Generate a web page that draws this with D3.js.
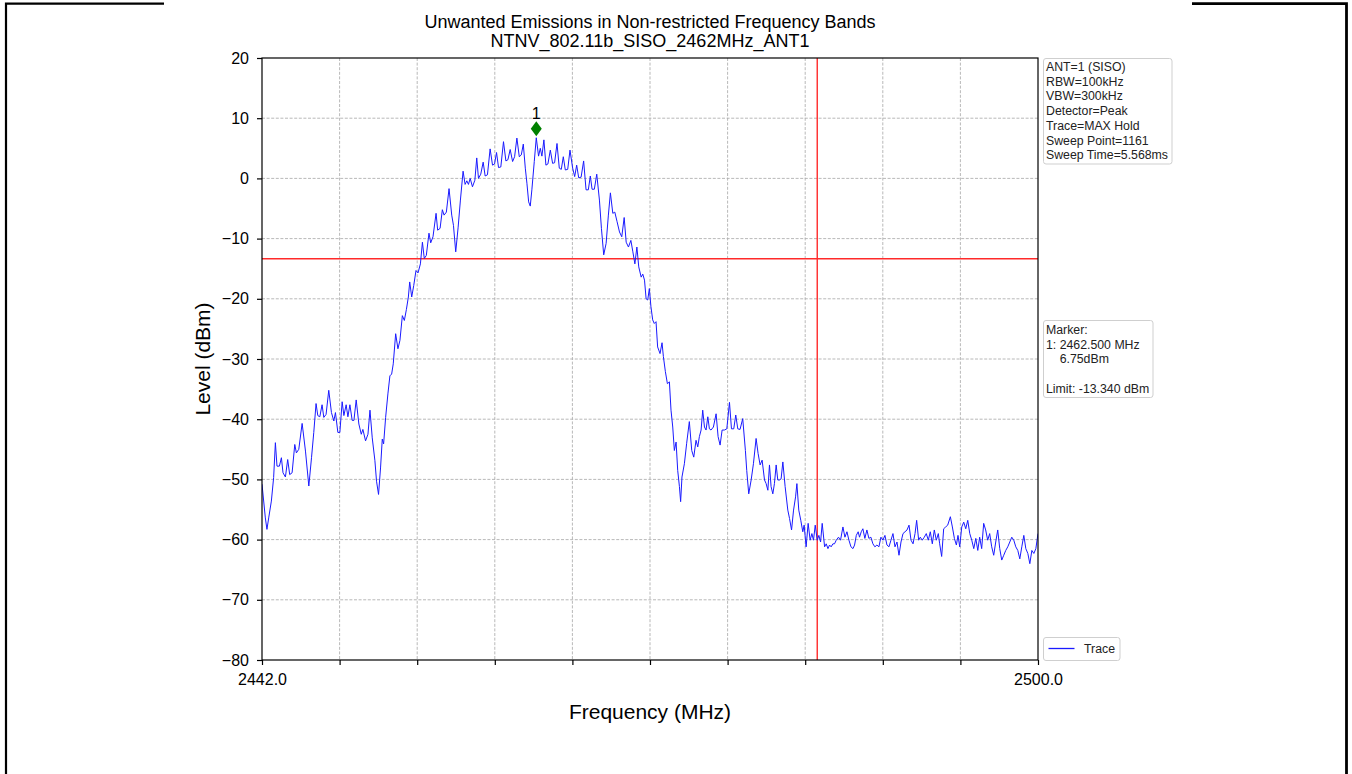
<!DOCTYPE html>
<html>
<head>
<meta charset="utf-8">
<script src="https://cdn.jsdelivr.net/npm/d3@7"></script>
<style>
  body { margin: 0; background: #fff; }
  svg { display: block; font-family: "Liberation Sans", Arial, sans-serif; }
</style>
</head>
<body>
<svg id="chart" width="1352" height="774"></svg>
<script>
// trace (MHz, dBm)
var freqMHz = [
  2442.00, 2442.25, 2442.37, 2442.50, 2442.70, 2442.87, 2443.00, 2443.12, 2443.30, 2443.45,
  2443.57, 2443.75, 2443.92, 2444.07, 2444.25, 2444.45, 2444.57, 2444.75, 2445.00, 2445.25,
  2445.50, 2445.70, 2445.87, 2446.04, 2446.17, 2446.32, 2446.49, 2446.62, 2446.79, 2446.99,
  2447.19, 2447.37, 2447.49, 2447.67, 2447.82, 2447.99, 2448.12, 2448.29, 2448.42, 2448.57,
  2448.74, 2448.87, 2449.04, 2449.24, 2449.42, 2449.54, 2449.74, 2449.92, 2450.07, 2450.24,
  2450.44, 2450.56, 2450.71, 2450.86, 2450.99, 2451.09, 2451.24, 2451.41, 2451.56, 2451.69,
  2451.81, 2451.99, 2452.16, 2452.31, 2452.49, 2452.64, 2452.79, 2452.94, 2453.04, 2453.19,
  2453.34, 2453.51, 2453.66, 2453.84, 2453.99, 2454.13, 2454.28, 2454.48, 2454.61, 2454.78,
  2455.01, 2455.13, 2455.31, 2455.48, 2455.61, 2455.78, 2455.98, 2456.18, 2456.31, 2456.48,
  2456.66, 2456.83, 2457.03, 2457.18, 2457.31, 2457.43, 2457.56, 2457.73, 2457.91, 2458.05,
  2458.18, 2458.35, 2458.53, 2458.68, 2458.85, 2459.05, 2459.23, 2459.38, 2459.53, 2459.68,
  2459.85, 2460.05, 2460.23, 2460.38, 2460.55, 2460.73, 2460.88, 2461.05, 2461.23, 2461.38,
  2461.53, 2461.68, 2461.80, 2461.93, 2462.05, 2462.17, 2462.35, 2462.50, 2462.67, 2462.80,
  2462.92, 2463.07, 2463.22, 2463.37, 2463.55, 2463.72, 2463.87, 2464.05, 2464.22, 2464.37,
  2464.52, 2464.67, 2464.85, 2465.02, 2465.22, 2465.37, 2465.52, 2465.67, 2465.85, 2466.04,
  2466.22, 2466.39, 2466.54, 2466.67, 2466.84, 2467.02, 2467.22, 2467.37, 2467.54, 2467.72,
  2467.89, 2468.04, 2468.22, 2468.37, 2468.54, 2468.72, 2468.89, 2469.07, 2469.22, 2469.39,
  2469.57, 2469.72, 2469.87, 2470.02, 2470.16, 2470.34, 2470.46, 2470.59, 2470.71,
  2470.83, 2470.95, 2471.07, 2471.20, 2471.32, 2471.45, 2471.57, 2471.75, 2471.90, 2472.00,
  2472.15, 2472.30, 2472.45, 2472.57, 2472.70, 2472.82, 2472.95, 2473.07, 2473.20, 2473.29,
  2473.39, 2473.57, 2473.74, 2473.94, 2474.12, 2474.27, 2474.44, 2474.57, 2474.69, 2474.82,
  2474.94, 2475.07, 2475.19, 2475.32, 2475.44, 2475.56, 2475.74, 2475.94, 2476.09, 2476.24,
  2476.39, 2476.56, 2476.74, 2476.94, 2477.09, 2477.26, 2477.41, 2477.56, 2477.73, 2477.93,
  2478.13, 2478.23, 2478.38, 2478.56, 2478.73, 2478.93, 2479.08, 2479.23, 2479.38, 2479.56,
  2479.68, 2479.81, 2479.93, 2480.05, 2480.18, 2480.30, 2480.43, 2480.55, 2480.68, 2480.80,
  2480.93, 2481.10, 2481.30, 2481.43, 2481.58, 2481.73, 2481.88, 2481.98, 2482.12, 2482.27,
  2482.42, 2482.52, 2482.67, 2482.82, 2482.97, 2483.10, 2483.22, 2483.35, 2483.50, 2483.62,
  2483.75, 2483.87, 2484.05, 2484.17, 2484.30, 2484.42, 2484.54, 2484.67, 2484.79, 2484.92,
  2485.09, 2485.24, 2485.42, 2485.57, 2485.72, 2485.87, 2486.02, 2486.17, 2486.29, 2486.42,
  2486.56, 2486.66, 2486.79, 2486.91, 2487.06, 2487.21, 2487.36, 2487.51, 2487.66, 2487.81,
  2487.96, 2488.11, 2488.26, 2488.41, 2488.56, 2488.71, 2488.86, 2489.01, 2489.16, 2489.31,
  2489.46, 2489.61, 2489.76, 2489.91, 2490.06, 2490.21, 2490.36, 2490.51, 2490.66, 2490.81,
  2490.93, 2491.08, 2491.20, 2491.35, 2491.50, 2491.65, 2491.80, 2491.95, 2492.10, 2492.25,
  2492.40, 2492.55, 2492.65, 2492.80, 2492.95, 2493.10, 2493.25, 2493.45, 2493.60, 2493.75,
  2493.90, 2494.02, 2494.15, 2494.30, 2494.45, 2494.60, 2494.75, 2494.90, 2495.05, 2495.20,
  2495.35, 2495.50, 2495.64, 2495.79, 2495.94, 2496.09, 2496.24, 2496.39, 2496.54, 2496.69,
  2496.84, 2496.99, 2497.14, 2497.29, 2497.44, 2497.59, 2497.74, 2497.89, 2498.04, 2498.19,
  2498.34, 2498.49, 2498.64, 2498.79, 2498.94, 2499.09, 2499.24, 2499.39, 2499.54, 2499.69,
  2499.84, 2500.00
];
var levelDbm = [
  -50.8, -56.4, -58.3, -56.4, -53.6, -49.7, -43.9, -47.8, -47.8, -46.4,
  -48.9, -49.6, -46.7, -49.2, -48.9, -44.2, -45.6, -45.0, -40.7, -45.3,
  -51.1, -46.4, -42.2, -37.4, -39.4, -39.6, -37.6, -39.7, -39.2, -35.2,
  -38.9, -40.3, -38.9, -42.2, -42.2, -37.1, -39.4, -37.6, -39.6, -37.6,
  -40.2, -40.2, -36.8, -40.8, -42.5, -41.7, -43.6, -42.5, -38.5, -43.1,
  -46.9, -50.3, -52.5, -48.1, -43.3, -44.1, -39.7, -35.8, -32.8, -32.5,
  -30.8, -25.8, -28.3, -26.9, -22.8, -23.6, -21.8, -19.7, -17.2, -19.7,
  -17.8, -15.3, -15.7, -14.2, -10.6, -13.3, -12.8, -9.1, -10.7, -9.7,
  -5.8, -8.6, -8.3, -5.2, -6.1, -5.6, -1.7, -6.1, -7.8, -12.2,
  -8.1, -3.6, 1.2, -1.0, -0.4, -1.0, 0.0, -1.4, -0.3, 3.4,
  0.0, 0.7, 2.7, 0.4, 0.6, 4.9, 2.2, 2.4, 4.3, 1.8,
  1.9, 6.1, 2.9, 3.1, 4.8, 2.8, 3.6, 6.7, 3.6, 3.9,
  5.7, 1.7, -0.8, -3.9, -4.6, -1.9, 2.8, 6.75, 3.7, 5.0,
  3.7, 6.4, 2.2, 2.4, 4.7, 2.5, 2.6, 5.8, 1.7, 1.5,
  3.6, 1.4, 1.5, 4.7, 1.7, 0.3, 2.2, 0.1, 0.2, 2.9,
  -1.9, -1.9, 0.4, -1.8, -1.8, 0.7, -3.6, -8.3, -12.7, -10.8,
  -6.1, -2.4, -5.8, -5.6, -7.2, -8.9, -9.7, -6.5, -10.6, -11.4,
  -10.3, -12.2, -14.2, -11.4, -14.7, -16.4, -15.9, -16.9, -20.0,
  -20.2, -18.3, -21.3, -23.5, -24.1, -23.8, -28.0, -29.1, -27.3, -29.6,
  -32.1, -34.1, -33.8, -38.5, -41.3, -45.2, -43.8, -48.5, -51.2, -53.7,
  -49.6, -47.4, -44.0, -40.4, -45.2, -46.3, -43.5, -44.6, -42.9, -41.8,
  -38.5, -41.3, -41.8, -39.6, -41.6, -41.8, -41.3, -39.1, -42.9, -44.3,
  -41.8, -41.8, -41.6, -37.2, -41.6, -41.6, -39.3, -41.6, -41.7, -39.9,
  -45.2, -48.5, -52.4, -50.1, -47.4, -43.2, -45.7, -47.6, -46.8, -50.1,
  -50.7, -51.8, -47.6, -51.2, -52.4, -50.7, -47.6, -50.1, -50.1, -49.9,
  -47.1, -51.2, -55.1, -56.5, -58.4, -55.1, -52.9, -50.7, -55.1, -56.8,
  -58.7, -57.6, -61.2, -57.3, -60.1, -59.0, -60.1, -57.6, -60.1, -59.3,
  -60.4, -57.3, -61.2, -60.7, -61.5, -60.9, -61.2, -60.7, -60.7, -60.1,
  -59.6, -60.1, -57.9, -59.6, -58.7, -60.1, -61.2, -61.5, -60.9, -59.3,
  -58.7, -59.6, -58.7, -58.2, -59.8, -58.4, -59.8, -59.6, -60.7, -61.2,
  -60.9, -61.2, -59.6, -60.1, -59.3, -60.9, -61.2, -60.1, -59.0, -61.2,
  -60.4, -62.6, -60.4, -59.0, -58.7, -58.4, -57.6, -60.1, -60.7, -59.0,
  -56.8, -60.1, -59.6, -60.1, -59.6, -59.0, -60.1, -58.7, -60.7, -58.4,
  -60.1, -59.0, -60.7, -62.8, -58.2, -57.9, -57.6, -56.2, -57.9, -59.8,
  -60.9, -59.3, -61.2, -57.9, -57.1, -58.2, -56.8, -59.0, -60.1, -61.5,
  -59.8, -61.8, -59.6, -61.5, -57.3, -58.4, -60.1, -59.0, -61.2, -62.6,
  -60.4, -58.4, -61.5, -63.4, -62.6, -61.8, -61.2, -60.4, -59.6, -60.1,
  -61.2, -61.8, -63.2, -61.2, -59.3, -61.5, -62.3, -64.0, -61.8, -62.3,
  -61.5, -59.0
];

var xTicks = [2442, 2447.8, 2453.6, 2459.4, 2465.2, 2471, 2476.8, 2482.6, 2488.4, 2494.2, 2500];
var xTickLabels = ["2442.0", "", "", "", "", "", "", "", "", "", "2500.0"];
var yTicks = [-80, -70, -60, -50, -40, -30, -20, -10, 0, 10, 20];

var limitLevel = -13.34;      // dBm
var bandEdgeMHz = 2483.5;     // restricted band edge
var markerFreq = 2462.5;
var markerLevel = 6.75;

var titleLines = ["Unwanted Emissions in Non-restricted Frequency Bands", "NTNV_802.11b_SISO_2462MHz_ANT1"];
var infoLines = ["ANT=1 (SISO)", "RBW=100kHz", "VBW=300kHz", "Detector=Peak", "Trace=MAX Hold", "Sweep Point=1161", "Sweep Time=5.568ms"];
var markerLines = ["Marker:", "1: 2462.500 MHz", "    6.75dBm", "", "Limit: -13.340 dBm"];

var svg = d3.select("#chart");
var plotLeft = 262, plotRight = 1038, plotTop = 58, plotBottom = 660;

var x = d3.scaleLinear().domain([2442, 2500]).range([plotLeft, plotRight]);
var y = d3.scaleLinear().domain([-80, 20]).range([plotBottom, plotTop]);

svg.append("rect").attr("width", 1352).attr("height", 774).attr("fill", "#fff");

// page frame around the pasted picture
var frame = svg.append("g").attr("stroke", "#000").attr("stroke-width", 2.2).attr("fill", "none");
frame.append("path").attr("d", "M6,774 V3.7 H164");
frame.append("path").attr("d", "M1192,3.7 H1346.5 V774").attr("stroke-width", 2.8);

svg.append("defs").append("clipPath").attr("id", "plotclip")
  .append("rect").attr("x", plotLeft).attr("y", plotTop)
  .attr("width", plotRight - plotLeft).attr("height", plotBottom - plotTop);

// grid
var grid = svg.append("g").attr("stroke", "#b0b0b0").attr("stroke-width", 0.9).attr("stroke-dasharray", "3,1.6");
grid.selectAll(".gx").data(xTicks.slice(1, -1)).enter().append("line")
  .attr("x1", function(d) { return x(d); }).attr("x2", function(d) { return x(d); })
  .attr("y1", plotTop).attr("y2", plotBottom);
grid.selectAll(".gy").data(yTicks.slice(1, -1)).enter().append("line")
  .attr("y1", function(d) { return y(d); }).attr("y2", function(d) { return y(d); })
  .attr("x1", plotLeft).attr("x2", plotRight);

// limit lines
svg.append("line").attr("x1", plotLeft).attr("x2", plotRight)
  .attr("y1", y(limitLevel)).attr("y2", y(limitLevel))
  .attr("stroke", "#ff2a2a").attr("stroke-width", 1.4);
svg.append("line").attr("x1", x(bandEdgeMHz)).attr("x2", x(bandEdgeMHz))
  .attr("y1", plotTop).attr("y2", plotBottom)
  .attr("stroke", "#ff2a2a").attr("stroke-width", 1.4);

// trace
var trace = d3.zip(freqMHz, levelDbm);
var line = d3.line().x(function(d) { return x(d[0]); }).y(function(d) { return y(d[1]); });
svg.append("path").datum(trace)
  .attr("clip-path", "url(#plotclip)")
  .attr("d", line)
  .attr("fill", "none").attr("stroke", "#1a1aff").attr("stroke-width", 1);

// peak marker, drawn a little above the trace point
var mx = x(markerFreq), my = y(markerLevel) - 9;
svg.append("path")
  .attr("d", "M" + mx + "," + (my - 7.5) + " L" + (mx + 5.5) + "," + my + " L" + mx + "," + (my + 7.5) + " L" + (mx - 5.5) + "," + my + "Z")
  .attr("fill", "#008000");
svg.append("text").attr("x", mx).attr("y", my - 10).attr("text-anchor", "middle")
  .style("font-size", "16px").attr("fill", "#000").text("1");

// axes
var xAxis = d3.axisBottom(x).tickValues(xTicks).tickSize(5).tickSizeOuter(0).tickPadding(9)
  .tickFormat(function(d, i) { return xTickLabels[i]; });
var gx = svg.append("g").attr("transform", "translate(0," + plotBottom + ")").call(xAxis);
var yAxis = d3.axisLeft(y).tickValues(yTicks).tickSize(5).tickSizeOuter(0).tickPadding(8);
var gy = svg.append("g").attr("transform", "translate(" + plotLeft + ",0)").call(yAxis);
[gx, gy].forEach(function(g) {
  g.selectAll("text").style("font-size", "16px").attr("fill", "#000")
    .style("font-family", "'Liberation Sans', Arial, sans-serif");
  g.selectAll("line").attr("stroke", "#000").attr("stroke-width", 1.2);
  g.select(".domain").remove();
});

// spines
svg.append("rect").attr("x", plotLeft).attr("y", plotTop)
  .attr("width", plotRight - plotLeft).attr("height", plotBottom - plotTop)
  .attr("fill", "none").attr("stroke", "#000").attr("stroke-width", 1.2);

// titles
svg.append("text").attr("x", 650).attr("y", 28).attr("text-anchor", "middle")
  .style("font-size", "18px").text(titleLines[0]);
svg.append("text").attr("x", 650).attr("y", 47).attr("text-anchor", "middle")
  .style("font-size", "18px").text(titleLines[1]);
svg.append("text").attr("x", 650).attr("y", 719).attr("text-anchor", "middle")
  .style("font-size", "21px").text("Frequency (MHz)");
svg.append("text").attr("transform", "translate(210,359) rotate(-90)").attr("text-anchor", "middle")
  .style("font-size", "21px").text("Level (dBm)");

// text boxes on the right
function textBox(x0, y0, w, h, lines, firstBase, step) {
  svg.append("rect").attr("x", x0).attr("y", y0).attr("width", w).attr("height", h)
    .attr("rx", 2.5).attr("fill", "#fff").attr("stroke", "#cfcfcf").attr("stroke-width", 1);
  var t = svg.append("text").attr("xml:space", "preserve").style("font-size", "12.3px").attr("fill", "#222");
  lines.forEach(function(s, i) {
    t.append("tspan").attr("x", x0 + 2.5).attr("y", firstBase + i * step).text(s);
  });
}
textBox(1043.5, 58.5, 128.5, 105.5, infoLines, 71, 14.7);
textBox(1043.5, 320.5, 109.5, 77, markerLines, 333.7, 14.85);

// legend
svg.append("rect").attr("x", 1043.5).attr("y", 637.5).attr("width", 76.5).attr("height", 23)
  .attr("rx", 2.5).attr("fill", "#fff").attr("stroke", "#cfcfcf");
svg.append("line").attr("x1", 1048.5).attr("x2", 1074.5).attr("y1", 648.5).attr("y2", 648.5)
  .attr("stroke", "#1a1aff").attr("stroke-width", 1.3);
svg.append("text").attr("x", 1084).attr("y", 652.8).style("font-size", "12.3px").attr("fill", "#222").text("Trace");
</script>
</body>
</html>
